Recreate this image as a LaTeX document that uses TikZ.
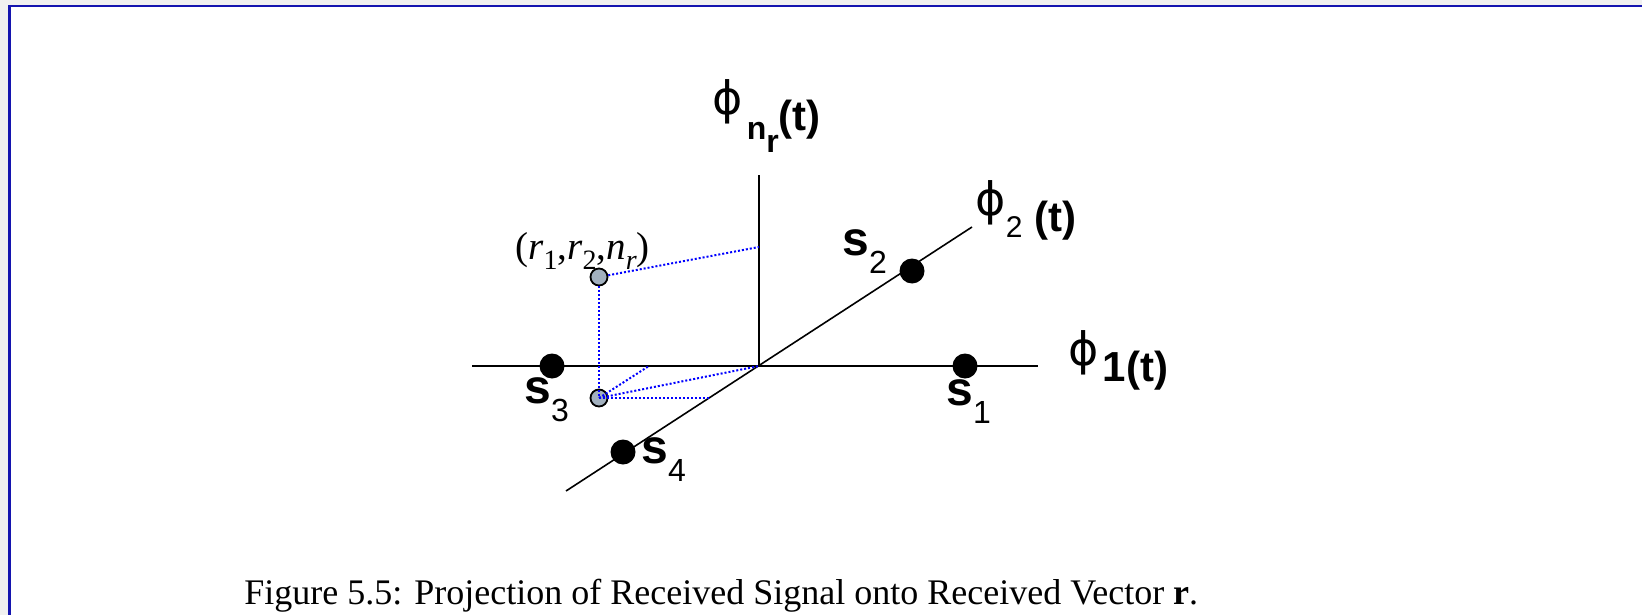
\documentclass[tikz,border=0pt]{standalone}
\usepackage{fontspec}
\setmainfont{Liberation Serif}
\setsansfont{Liberation Sans}
\newfontfamily\phifont{DejaVu Sans}
\usetikzlibrary{positioning}

\definecolor{ptfill}{RGB}{162,176,190}
\definecolor{framblue}{RGB}{20,20,175}

% raised phi as in the labels of the axes
\newcommand{\phisym}{\raisebox{8pt}{\phifont\mdseries\fontsize{23pt}{23pt}\selectfont ϕ}}
\newcommand{\ssub}[1]{\raisebox{-9pt}{\fontsize{16pt}{16pt}\selectfont\mdseries #1}}
\newcommand{\rsub}[1]{\raisebox{-5pt}{\fontsize{14pt}{14pt}\selectfont #1}}

\begin{document}
\begin{tikzpicture}[x=0.5pt, y=-0.5pt,
    axis/.style={line width=0.9pt, black},
    proj/.style={blue, line width=1pt, dash pattern=on 1pt off 1pt},
    sigdot/.style={circle, fill=black, inner sep=0pt, minimum size=12.5pt},
    rpoint/.style={circle, draw=black, line width=0.9pt, fill=ptfill, inner sep=0pt, minimum size=8.5pt},
    slabel/.style={anchor=base west, inner sep=0pt, font=\sffamily\bfseries\fontsize{24pt}{24pt}\selectfont},
    philabel/.style={anchor=base west, inner sep=0pt, font=\sffamily\bfseries\fontsize{21pt}{21pt}\selectfont},
    rlabel/.style={anchor=base west, inner sep=0pt, font=\fontsize{19.5pt}{19.5pt}\selectfont},
    caption/.style={anchor=base west, inner sep=0pt, font=\fontsize{18pt}{18pt}\selectfont}]

    \useasboundingbox (0,0) rectangle (1642,615);
    % frame
    \fill[gray!12] (0,0) rectangle (1642,5) (0,0) rectangle (8,615);
    \draw[framblue, line width=1.2pt] (9.5,615) -- (9.5,6.2) -- (1642,6.2);

    % axes
    \coordinate (o) at (759,366);
    \coordinate (ytop) at (759,175);
    \coordinate (xleft) at (472,366);
    \coordinate (xright) at (1038,366);
    \coordinate (zlow) at (566,491);
    \coordinate (zup) at (972,227);
    \draw[axis] (o) -- (ytop);
    \draw[axis] (xleft) -- (xright);
    \draw[axis, line width=0.8pt] (zlow) -- (zup);

    \node[philabel] (phin) at (712,130) {\phisym\hspace{2pt}\raisebox{-5pt}{\fontsize{16pt}{16pt}\selectfont n\raisebox{-6pt}{r}}(t)};
    \node[philabel] (phione) at (1068,381) {\phisym\hspace{2pt}1(t)};
    \node[philabel] (phitwo) at (975,231) {\phisym\raisebox{-3pt}{\fontsize{15pt}{15pt}\selectfont\mdseries 2}\ (t)};

    % signal points
    \node[sigdot] (s1) at (965,366) {};
    \node[sigdot] (s2) at (912,271) {};
    \node[sigdot] (s3) at (552,366) {};
    \node[sigdot] (s4) at (623,452) {};
    \node[slabel] (ls1) at (946,405) {s\ssub{1}};
    \node[slabel] (ls2) at (842,255) {s\ssub{2}};
    \node[slabel] (ls3) at (524,403) {s\ssub{3}};
    \node[slabel] (ls4) at (641,463) {s\ssub{4}};

    % received vector and its projections
    \coordinate (py) at (759,247);
    \coordinate (px) at (649,366);
    \coordinate (pz) at (710,398);
    \node[rpoint] (rup) at (599,277) {};
    \node[rpoint] (rlow) at (599,398) {};
    \node[rlabel] (lr) at (515,259) {(\textit{r}\rsub{1},\textit{r}\rsub{2},\textit{n}\rsub{\textit{r}})};
    \draw[proj] (rup) -- (py);
    \draw[proj] (rup) -- (rlow.center);
    \draw[proj] (rlow.center) -- (px);
    \draw[proj] (rlow.center) -- (o);
    \draw[proj] (rlow.center) -- (pz);

    \node[caption] (cap) at (244,604) {Figure 5.5: Projection of Received Signal onto Received Vector \textbf{r}.};
\end{tikzpicture}
\end{document}
